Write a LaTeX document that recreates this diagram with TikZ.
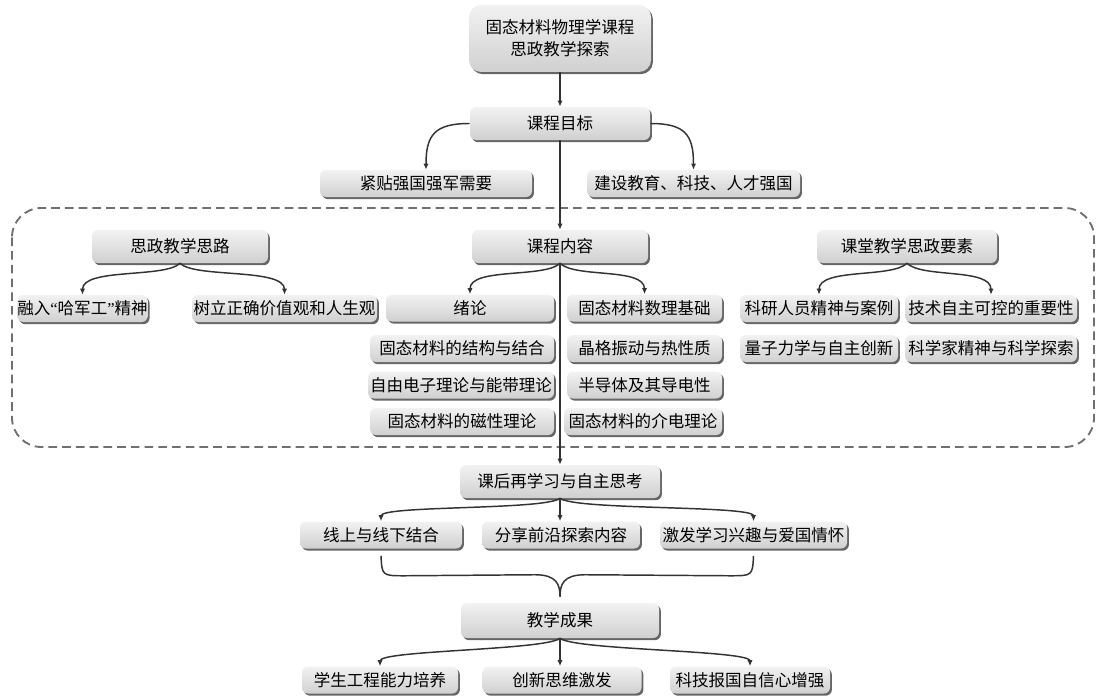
\documentclass[tikz,border=0pt]{standalone}
\usepackage{fontspec}
\newfontfamily\cjk{Noto Sans CJK SC}
\newfontfamily\lat{Liberation Serif}
\usetikzlibrary{shadows,calc,arrows.meta}
\definecolor{boxtop}{HTML}{F2F2F2}
\definecolor{boxbot}{HTML}{D0D0D0}
\definecolor{linec}{HTML}{333333}
\definecolor{dashc}{HTML}{707070}
\begin{document}
\begin{tikzpicture}[x=0.75pt,y=-0.75pt,
  box/.style={rounded corners=4.5pt, top color=boxtop, bottom color=boxbot, draw=none,
    drop shadow={shadow xshift=1.4pt, shadow yshift=-1.6pt, fill=black, opacity=0.6},
    font=\cjk\fontsize{12.4}{16.5}\selectfont, inner sep=0pt, minimum height=20.25pt, text=black},
  big/.style={minimum height=24.75pt},
  conn/.style={draw=linec, line width=1.1pt, -{Latex[length=4.5pt,width=3.8pt]}},
  brace/.style={draw=linec, line width=1.1pt},
  dashbox/.style={draw=dashc, line width=1.4pt, dash pattern=on 6.5pt off 3.8pt, rounded corners=22pt}
]
\useasboundingbox (0,0) rectangle (1098,699);
\draw[dashbox] (12,208) rectangle (1094,447);

% nodes
\node[box, minimum width=136.5pt, minimum height=50.25pt, rounded corners=9pt, align=center] (top) at (560,38.5) {固态材料物理学课程\\思政教学探索};
\node[box, big, minimum width=135pt] (goal) at (560,123.5) {课程目标};
\node[box, minimum width=159pt] (jt) at (426,183.5) {紧贴强国强军需要};
\node[box, minimum width=159.75pt] (js) at (693.5,183.5) {建设教育、科技、人才强国};

\node[box, big, minimum width=132pt] (sl) at (180,246.5) {思政教学思路};
\node[box, minimum width=93.75pt] (rr) at (82.5,308.5) {融入{\lat “}哈军工{\lat ”}精神};
\node[box, minimum width=138.75pt] (sl2) at (284.5,308.5) {树立正确价值观和人生观};

\node[box, big, minimum width=132pt] (nr) at (560,246.5) {课程内容};
\node[box, minimum width=126pt] (xl) at (470,308) {绪论};
\node[box, minimum width=138pt] (jg1) at (462,348.5) {固态材料的结构与结合};
\node[box, minimum width=139.5pt] (zy) at (461,385) {自由电子理论与能带理论};
\node[box, minimum width=138pt] (cx1) at (462,421.5) {固态材料的磁性理论};
\node[box, minimum width=116.25pt] (sj) at (644.5,308) {固态材料数理基础};
\node[box, minimum width=116.25pt] (jz) at (644.5,348.5) {晶格振动与热性质};
\node[box, minimum width=116.25pt] (bd) at (644.5,385) {半导体及其导电性};
\node[box, minimum width=118.5pt] (jd) at (643,421.5) {固态材料的介电理论};

\node[box, big, minimum width=135pt] (kt) at (907,246.5) {课堂教学思政要素};
\node[box, minimum width=118.5pt] (ky) at (819,308.5) {科研人员精神与案例};
\node[box, minimum width=129pt] (js2) at (991,308.5) {技术自主可控的重要性};
\node[box, minimum width=118.5pt] (lz) at (819,348.5) {量子力学与自主创新};
\node[box, minimum width=129pt] (kx) at (991,348.5) {科学家精神与科学探索};

\node[box, big, minimum width=150pt] (kh) at (560,481.5) {课后再学习与自主思考};
\node[box, minimum width=121.5pt] (xs) at (381,535) {线上与线下结合};
\node[box, minimum width=118.5pt] (fx) at (561,535) {分享前沿探索内容};
\node[box, minimum width=140.25pt] (jf) at (753.5,535) {激发学习兴趣与爱国情怀};

\node[box, minimum width=148.5pt, minimum height=26.25pt] (cg) at (560,620.5) {教学成果};
\node[box, minimum width=117pt] (xsgc) at (380,680) {学生工程能力培养};
\node[box, minimum width=119.25pt] (cxsw) at (562,680) {创新思维激发};
\node[box, minimum width=120pt] (kjbg) at (750,680) {科技报国自信心增强};

% connectors
\draw[conn] (top.south) -- (goal.north);
\draw[conn] (goal.west) .. controls ($(goal.west)+(-35,0)$) and ($(jt.north)+(0,-35)$) .. (jt.north);
\draw[conn] (goal.east) .. controls ($(goal.east)+(35,0)$) and ($(js.north)+(0,-35)$) .. (js.north);
\draw[conn] (goal.south) -- (nr.north);
\draw[conn] (nr.south) -- (kh.north);

\draw[conn] (sl.south) .. controls ($(sl.south)+(-15,15)$) and ($(rr.north)+(0,-27)$) .. (rr.north);
\draw[conn] (sl.south) .. controls ($(sl.south)+(15,15)$) and ($(sl2.north)+(0,-27)$) .. (sl2.north);
\draw[conn] (nr.south) .. controls ($(nr.south)+(-15,15)$) and ($(xl.north)+(0,-27)$) .. (xl.north);
\draw[conn] (nr.south) .. controls ($(nr.south)+(15,15)$) and ($(sj.north)+(0,-27)$) .. (sj.north);
\draw[conn] (kt.south) .. controls ($(kt.south)+(-15,15)$) and ($(ky.north)+(0,-27)$) .. (ky.north);
\draw[conn] (kt.south) .. controls ($(kt.south)+(15,15)$) and ($(js2.north)+(0,-27)$) .. (js2.north);

\draw[conn] (kh.south) .. controls ($(kh.south)+(-15,12)$) and ($(xs.north)+(0,-16)$) .. (xs.north);
\draw[conn] (kh.south) -- (kh.south |- fx.north);
\draw[conn] (kh.south) .. controls ($(kh.south)+(15,12)$) and ($(jf.north)+(0,-16)$) .. (jf.north);

% brace
\coordinate (tip) at ($(cg.north)+(0,-6)$);
\coordinate (bl) at ($(xs.south)+(0,7)$);
\coordinate (br) at ($(jf.south)+(0,7)$);
\draw[brace] (bl) .. controls ($(bl)+(1,20)$) .. ($(bl)+(24,20)$)
  -- ($(tip)+(-25,-22)$) .. controls ($(tip)+(-3,-22)$) and ($(tip)+(0,-12)$) .. (tip)
  .. controls ($(tip)+(0,-12)$) and ($(tip)+(3,-22)$) .. ($(tip)+(25,-22)$)
  -- ($(br)+(-24,20)$) .. controls ($(br)+(-1,20)$) .. (br);

\draw[conn] (cg.south) .. controls ($(cg.south)+(-15,12)$) and ($(xsgc.north)+(0,-16)$) .. (xsgc.north);
\draw[conn] (cg.south) -- (cg.south |- cxsw.north);
\draw[conn] (cg.south) .. controls ($(cg.south)+(15,12)$) and ($(kjbg.north)+(0,-16)$) .. (kjbg.north);
\end{tikzpicture}
\end{document}
